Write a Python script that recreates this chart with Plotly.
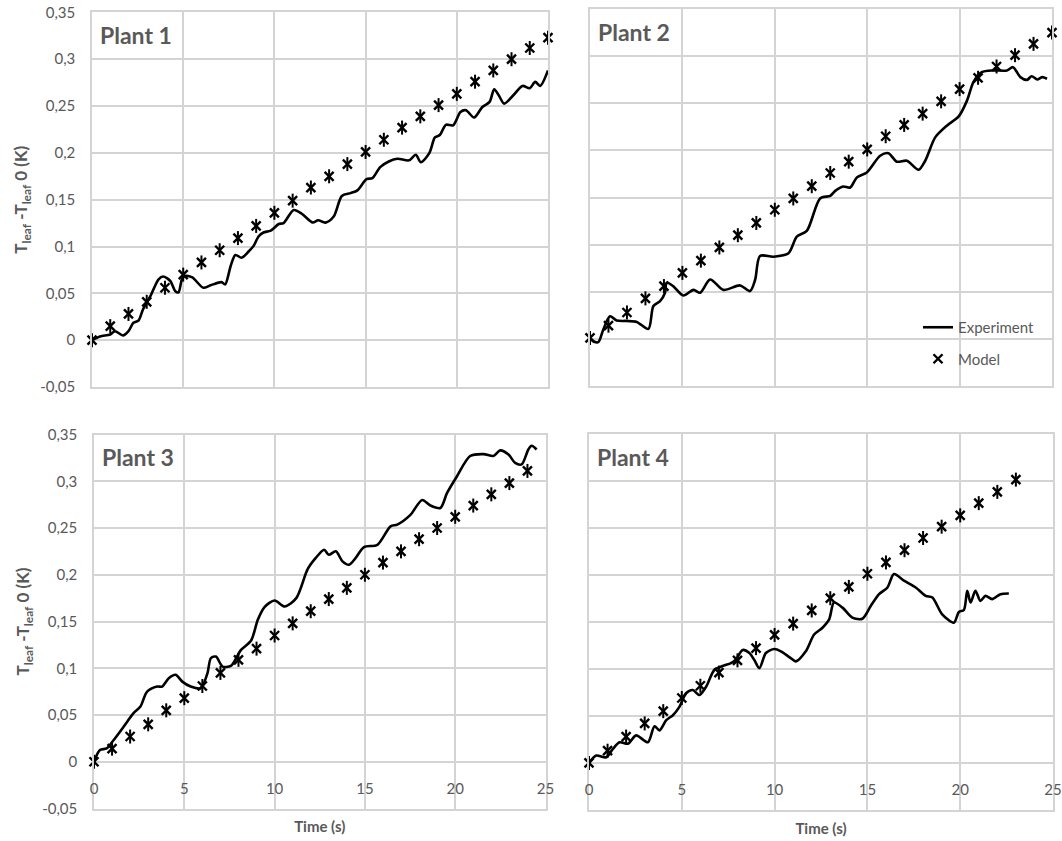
import plotly.graph_objects as go

# ---------------- data ----------------
model_t_p1 = [0, 1, 2, 3, 4, 5, 6, 7, 8, 9, 10, 11, 12, 13, 14, 15, 16, 17, 18, 19, 20, 21, 22, 23, 24, 25]
model_y_p1 = [0.0, 0.015, 0.028, 0.041, 0.056, 0.070, 0.083, 0.096, 0.109, 0.122, 0.136, 0.149, 0.163,
              0.175, 0.188, 0.201, 0.214, 0.227, 0.239, 0.251, 0.263, 0.276, 0.288, 0.300, 0.312, 0.323]
model_t_p2 = [0, 1, 2, 3, 4, 5, 6, 7, 8, 9, 10, 11, 12, 13, 14, 15, 16, 17, 18, 19, 20, 21, 22, 23, 24, 25]
model_y_p2 = [0.001, 0.014, 0.028, 0.043, 0.056, 0.070, 0.083, 0.097, 0.110, 0.123, 0.137, 0.149, 0.162,
              0.176, 0.188, 0.201, 0.215, 0.227, 0.239, 0.252, 0.265, 0.277, 0.289, 0.301, 0.313, 0.325]
model_t_p3 = [0, 1, 2, 3, 4, 5, 6, 7, 8, 9, 10, 11, 12, 13, 14, 15, 16, 17, 18, 19, 20, 21, 22, 23, 24]
model_y_p3 = [0.0, 0.014, 0.027, 0.040, 0.055, 0.068, 0.081, 0.095, 0.109, 0.121, 0.135, 0.148, 0.161,
              0.174, 0.186, 0.200, 0.213, 0.225, 0.238, 0.250, 0.262, 0.274, 0.286, 0.298, 0.311]
model_t_p4 = [0, 1, 2, 3, 4, 5, 6, 7, 8, 9, 10, 11, 12, 13, 14, 15, 16, 17, 18, 19, 20, 21, 22, 23]
model_y_p4 = [0.0, 0.013, 0.028, 0.042, 0.055, 0.069, 0.082, 0.096, 0.109, 0.122, 0.136, 0.148, 0.162,
              0.175, 0.187, 0.201, 0.213, 0.226, 0.239, 0.251, 0.263, 0.276, 0.288, 0.301]

exp_t_p1 = [0, 0.44, 1.0, 1.26, 1.7, 2.0, 2.27, 2.55, 2.8, 3.2, 3.65, 3.9, 4.3, 4.56, 4.74, 4.93, 5.1, 5.5,
            6.1, 6.5, 7.1, 7.3, 7.6, 7.86, 8.2, 8.6, 8.86, 9.14, 9.4, 9.8, 10.24, 10.5, 11.06, 11.5, 12.1,
            12.4, 12.8, 13.25, 13.7, 14.18, 14.55, 15.05, 15.37, 15.8, 16.27, 16.74, 17.38, 17.75, 18.03,
            18.5, 18.8, 19.07, 19.4, 19.8, 20.2, 20.5, 20.95, 21.4, 21.8, 22.05, 22.3, 22.6, 23.1, 23.6,
            24.0, 24.3, 24.57, 25.0]
exp_y_p1 = [0.0, 0.004, 0.006, 0.0096, 0.005, 0.0096, 0.0186, 0.021, 0.033, 0.047, 0.065, 0.068, 0.063,
            0.0525, 0.051, 0.065, 0.0686, 0.067, 0.056, 0.0586, 0.062, 0.0596, 0.079, 0.091, 0.088, 0.095,
            0.1007, 0.111, 0.115, 0.117, 0.124, 0.125, 0.139, 0.135, 0.1257, 0.128, 0.1255, 0.132, 0.154,
            0.157, 0.160, 0.172, 0.173, 0.1848, 0.1908, 0.1937, 0.192, 0.198, 0.190, 0.200, 0.2165, 0.219,
            0.230, 0.2294, 0.2437, 0.2455, 0.2377, 0.249, 0.2545, 0.268, 0.2615, 0.2526, 0.2615, 0.2715,
            0.269, 0.2758, 0.2715, 0.288]

exp_t_p2 = [0, 0.18, 0.45, 0.72, 1.08, 1.44, 1.99, 2.53, 3.16, 3.43, 3.79, 4.06, 4.15, 4.5, 5.05, 5.6,
            5.96, 6.5, 7.22, 8.12, 8.66, 8.94, 9.2, 9.93, 10.74, 11.19, 11.73, 12.45, 13.0, 13.27, 13.7,
            14.08, 14.44, 14.98, 15.7, 16.15, 16.6, 17.15, 17.78, 18.14, 18.68, 19.31, 19.95, 20.4, 20.76,
            21.2, 21.84, 22.56, 22.89, 23.29, 23.65, 23.9, 24.2, 24.46, 24.73]
exp_y_p2 = [0.001, -0.0025, -0.0035, 0.010, 0.024, 0.0195, 0.019, 0.018, 0.0106, 0.0348, 0.040, 0.049,
            0.0596, 0.056, 0.046, 0.052, 0.049, 0.063, 0.052, 0.0567, 0.0507, 0.063, 0.088, 0.0872, 0.0908,
            0.1085, 0.1145, 0.149, 0.1518, 0.157, 0.1617, 0.1606, 0.1713, 0.1766, 0.1943, 0.197, 0.188,
            0.189, 0.1794, 0.189, 0.2138, 0.2262, 0.236, 0.2528, 0.273, 0.283, 0.2848, 0.2848, 0.2883,
            0.2777, 0.2748, 0.2787, 0.2752, 0.2777, 0.276]

exp_t_p3 = [0, 0.33, 0.7, 1.08, 1.64, 2.19, 2.57, 2.94, 3.5, 3.77, 4.14, 4.52, 4.89, 5.35, 5.91, 6.28,
            6.47, 6.75, 7.12, 7.58, 8.14, 8.7, 9.07, 9.44, 10.0, 10.56, 11.2, 11.83, 12.28, 12.74, 13.0,
            13.39, 13.76, 14.12, 14.49, 14.95, 15.69, 16.42, 16.79, 17.52, 18.17, 18.63, 19.18, 19.55,
            20.1, 20.83, 21.57, 22.12, 22.49, 22.95, 23.32, 23.68, 24.05, 24.23, 24.51]
exp_y_p3 = [0.0, 0.0125, 0.0143, 0.023, 0.0375, 0.052, 0.059, 0.075, 0.0804, 0.0804, 0.0893, 0.093,
            0.0857, 0.0804, 0.0786, 0.0946, 0.1107, 0.1125, 0.1018, 0.1025, 0.1196, 0.1296, 0.1518,
            0.1654, 0.1725, 0.166, 0.175, 0.206, 0.218, 0.2268, 0.2214, 0.225, 0.2143, 0.2107, 0.218,
            0.2296, 0.232, 0.2518, 0.2536, 0.264, 0.280, 0.274, 0.2714, 0.2875, 0.3054, 0.327, 0.329,
            0.327, 0.333, 0.3286, 0.3196, 0.318, 0.334, 0.338, 0.334]

exp_t_p4 = [0, 0.39, 0.93, 1.29, 1.65, 2.1, 2.54, 3.17, 3.53, 3.8, 4.16, 4.52, 4.87, 5.23, 5.59, 5.95,
            6.31, 6.76, 7.2, 7.65, 7.92, 8.28, 8.64, 8.9, 9.18, 9.53, 9.98, 10.34, 10.79, 11.15, 11.68,
            12.13, 12.58, 12.94, 13.2, 13.66, 14.19, 14.73, 15.18, 15.63, 16.08, 16.43, 16.97, 17.6,
            18.14, 18.5, 19.03, 19.66, 19.93, 20.2, 20.38, 20.56, 20.82, 21.09, 21.36, 21.72, 22.17, 22.62]
exp_y_p4 = [0.0, 0.0079, 0.006, 0.015, 0.022, 0.0204, 0.0293, 0.022, 0.039, 0.0346, 0.0454, 0.0507,
            0.0596, 0.074, 0.0775, 0.0721, 0.081, 0.099, 0.103, 0.106, 0.110, 0.120, 0.1168, 0.1096,
            0.1007, 0.1168, 0.121, 0.1186, 0.1125, 0.1079, 0.1186, 0.1364, 0.1436, 0.1525, 0.1704,
            0.165, 0.1543, 0.1532, 0.1668, 0.1793, 0.1864, 0.2007, 0.1936, 0.1864, 0.1775, 0.1757,
            0.1579, 0.149, 0.1604, 0.1625, 0.1829, 0.1704, 0.1829, 0.1721, 0.1775, 0.174, 0.1793, 0.180]

panel_titles = ["Plant 1", "Plant 2", "Plant 3", "Plant 4"]
y_tick_vals = [-0.05, 0, 0.05, 0.1, 0.15, 0.2, 0.25, 0.3, 0.35]
y_tick_labels = ["-0,05", "0", "0,05", "0,1", "0,15", "0,2", "0,25", "0,3", "0,35"]
x_tick_vals = [0, 5, 10, 15, 20, 25]
x_tick_labels = ["0", "5", "10", "15", "20", "25"]
legend_names = ["Experiment", "Model"]
x_title = "Time (s)"
y_title = "T<sub>leaf</sub> -T<sub>leaf</sub> 0 (K)"

# ---------------- style / layout ----------------
W, H = 1062, 841
GRID = "#d4d4d4"
TXT = "#595959"
FONT = "Lato"


def px(xp):
    return xp / W


def py(yp):
    return 1 - yp / H


# pixel boxes (window coords) of the 4 plot areas: (left, right, top, bottom)
boxes = [(92, 548, 12.4, 387), (590, 1052, 9, 386), (94, 545.5, 434.5, 808.5), (589, 1053, 433.5, 810)]

panels = [
    (model_t_p1, model_y_p1, exp_t_p1, exp_y_p1),
    (model_t_p2, model_y_p2, exp_t_p2, exp_y_p2),
    (model_t_p3, model_y_p3, exp_t_p3, exp_y_p3),
    (model_t_p4, model_y_p4, exp_t_p4, exp_y_p4),
]

fig = go.Figure()
layout = dict(
    width=W, height=H, margin=dict(l=0, r=0, t=0, b=0, autoexpand=False),
    paper_bgcolor="white", plot_bgcolor="white",
    font=dict(family=FONT, color=TXT, size=15),
    showlegend=True,
    legend=dict(x=px(918), y=py(311), xanchor="left", yanchor="top",
                bgcolor="rgba(0,0,0,0)", font=dict(size=15, color=TXT),
                itemwidth=30, tracegroupgap=9, traceorder="grouped"),
)

annotations = []
for i, (mt, my, et, ey) in enumerate(panels):
    n = "" if i == 0 else str(i + 1)
    xa, ya = "x" + n, "y" + n
    l, r, t, b = boxes[i]
    bottom_row = i >= 2
    left_col = i % 2 == 0
    layout["xaxis" + n] = dict(
        domain=[px(l), px(r)], anchor=ya, range=[0, 25], automargin=False,
        tickvals=x_tick_vals, ticktext=x_tick_labels,
        showticklabels=bottom_row, ticklabelposition="inside", ticklabeloverflow="allow",
        ticklabelstandoff=12,
        ticks="", showgrid=True, gridcolor=GRID, gridwidth=1.5,
        showline=True, linecolor=GRID, linewidth=1.5, mirror=True, zeroline=False,
        tickfont=dict(size=15, color=TXT),
        title=dict(text="<b>" + x_title + "</b>", font=dict(size=15, color=TXT), standoff=26) if bottom_row else None,
    )
    layout["yaxis" + n] = dict(
        domain=[py(b), py(t)], anchor=xa, range=[-0.05, 0.35], automargin=False,
        tickvals=y_tick_vals, ticktext=y_tick_labels,
        showticklabels=left_col, ticks="", ticklabelstandoff=12, ticklabeloverflow="allow",
        showgrid=True, gridcolor=GRID, gridwidth=1.5,
        showline=True, linecolor=GRID, linewidth=1.5, mirror=True, zeroline=False,
        tickfont=dict(size=15, color=TXT),
        title=dict(text="<b>" + y_title + "</b>", font=dict(size=17, color=TXT), standoff=8) if left_col else None,
    )
    show = i == 1
    fig.add_trace(go.Scatter(
        x=et, y=ey, mode="lines", name=legend_names[0], showlegend=show, legendgroup="exp",
        line=dict(color="black", width=2.6, shape="spline", smoothing=0.8),
        xaxis=xa, yaxis=ya, cliponaxis=False, legendrank=1,
    ))
    fig.add_trace(go.Scatter(
        x=mt, y=my, mode="markers", name=legend_names[1], showlegend=show, legendgroup="model",
        marker=dict(symbol="x-thin-open", size=9, color="black", line=dict(color="black", width=2.4)),
        xaxis=xa, yaxis=ya, cliponaxis=False, legendrank=2,
    ))
    fig.add_trace(go.Scatter(
        x=mt, y=my, mode="markers", name=legend_names[1], showlegend=False, legendgroup="model",
        marker=dict(symbol="line-ns-open", size=10, color="black", line=dict(color="black", width=2)),
        xaxis=xa, yaxis=ya, cliponaxis=False,
    ))
    annotations.append(dict(
        text="<b>" + panel_titles[i] + "</b>", xref="paper", yref="paper",
        x=px(l + 6), y=py(t + 23), xanchor="left", yanchor="middle",
        showarrow=False, font=dict(size=23, color=TXT, family=FONT), bgcolor="white",
    ))

layout["annotations"] = annotations
fig.update_layout(**layout)
fig.write_html("out.html", config={"displayModeBar": False},
               post_script="document.body.style.margin='0px';")
